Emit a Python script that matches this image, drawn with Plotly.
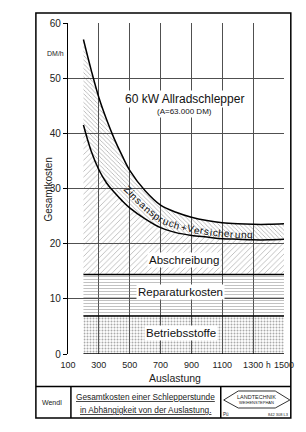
import numpy as np
import plotly.graph_objects as go

# ---------------- data ----------------
auslastung = [200, 250, 300, 350, 400, 450, 500, 600, 700, 800, 900, 1000, 1100, 1200, 1300, 1400, 1500]
betriebsstoffe_top = [6.9] * len(auslastung)
reparatur_top = [14.4] * len(auslastung)
abschreibung_top = [41.5, 36.8, 33.4, 31.0, 29.3, 27.8, 26.5, 24.5, 22.9, 22.0, 21.5, 21.2, 20.9, 20.8, 20.7, 20.7, 20.8]
gesamt_top = [57.0, 51.5, 46.5, 42.5, 39.0, 36.0, 33.3, 29.6, 27.0, 25.7, 24.8, 24.2, 23.8, 23.6, 23.5, 23.5, 23.6]
baseline = [0] * len(auslastung)

x_ticks = [100, 300, 500, 700, 900, 1100, 1300, 1500]
x_ticktext = ["100", "300", "500", "700", "900", "1100", "1300", "1500"]
y_ticks = [0, 10, 20, 30, 40, 50, 60]

# ---------------- geometry ----------------
W, H = 306, 432
ML, MR, MT, MB = 68, 16, 23, 78
PW, PH = W - ML - MR, H - MT - MB
XR = [100, 1500]
YR = [0, 60]
FONT = "Liberation Sans, Arial, sans-serif"
GRID = "#505050"


def px2paper(px, py):
    return (px - ML) / PW, (H - MB - py) / PH


def data2px(x, y):
    return ML + (x - XR[0]) / (XR[1] - XR[0]) * PW, (H - MB) - (y - YR[0]) / (YR[1] - YR[0]) * PH


fig = go.Figure()

common = dict(mode="lines", line=dict(color="black", width=1.5), hoverinfo="skip", showlegend=False)
fig.add_trace(go.Scatter(x=auslastung, y=baseline, **common))
fig.add_trace(go.Scatter(x=auslastung, y=betriebsstoffe_top, fill="tonexty",
                         fillcolor="rgba(255,255,255,0)",
                         fillpattern=dict(shape=".", fgcolor="#555", bgcolor="rgba(255,255,255,0)", size=3, solidity=0.35),
                         **common))
fig.add_trace(go.Scatter(x=auslastung, y=reparatur_top, fill="tonexty",
                         fillcolor="rgba(255,255,255,0)",
                         fillpattern=dict(shape="-", fgcolor="#777", bgcolor="rgba(255,255,255,0)", size=3, solidity=0.3),
                         **common))
fig.add_trace(go.Scatter(x=auslastung, y=abschreibung_top, fill="tonexty", line_shape="spline",
                         fillcolor="rgba(255,255,255,0)",
                         fillpattern=dict(shape="/", fgcolor="#666", bgcolor="rgba(255,255,255,0)", size=4, solidity=0.2),
                         mode="lines", line=dict(color="black", width=1.5), hoverinfo="skip", showlegend=False))
fig.add_trace(go.Scatter(x=auslastung, y=gesamt_top, fill="tonexty", line_shape="spline",
                         fillcolor="rgba(255,255,255,0)",
                         fillpattern=dict(shape="\\", fgcolor="#555", bgcolor="rgba(255,255,255,0)", size=3, solidity=0.25),
                         mode="lines", line=dict(color="black", width=1.5), hoverinfo="skip", showlegend=False))

ann = []
shapes = []

# --- band labels ---
for txt_, x, y, fs in [("Abschreibung", 850, 17.0, 11.5),
                       ("Reparaturkosten", 831, 11.2, 11.5),
                       ("Betriebsstoffe", 831, 3.8, 11.5)]:
    ann.append(dict(x=x, y=y, xref="x", yref="y", text=txt_, showarrow=False,
                    xanchor="center", yanchor="middle",
                    font=dict(family=FONT, size=fs, color="#111"), bgcolor="white", borderpad=1))

ann.append(dict(x=857, y=46.3, xref="x", yref="y", text="60 kW Allradschlepper", showarrow=False,
                xanchor="center", yanchor="middle", bgcolor="white",
                font=dict(family=FONT, size=12, color="#111")))
ann.append(dict(x=857, y=44.0, xref="x", yref="y", text="(A=63.000 DM)", showarrow=False,
                xanchor="center", yanchor="middle", bgcolor="white",
                font=dict(family=FONT, size=8, color="#111")))

# --- curved label along the Zins band ---
widths = {"Z": 611, "i": 222, "n": 556, "s": 500, "a": 556, "p": 556, "r": 333, "u": 556, "c": 500,
          "h": 556, "+": 584, "V": 667, "e": 556, "g": 556}
label = "Zinsanspruch+Versicherung"
xs = np.linspace(470, 1300, 600)
mid = (np.interp(xs, auslastung, gesamt_top) + np.interp(xs, auslastung, abschreibung_top)) / 2 - 0.5
k = 25
mid_s = np.convolve(np.pad(mid, k, mode="edge"), np.ones(2 * k + 1) / (2 * k + 1), mode="same")[k:-k]
pxs, pys = data2px(xs, mid_s)
seg = np.hypot(np.diff(pxs), np.diff(pys))
arc = np.concatenate([[0], np.cumsum(seg)])
fsz = 10
cw = np.array([widths[c] * fsz / 1000 for c in label])
scale = arc[-1] / cw.sum()
cpos = (np.cumsum(cw) - cw / 2) * scale
for ch, s in zip(label, cpos):
    i = int(np.clip(np.searchsorted(arc, s), 1, len(arc) - 2))
    ang = float(np.degrees(np.arctan2(pys[i + 1] - pys[i - 1], pxs[i + 1] - pxs[i - 1])))
    ann.append(dict(x=float(xs[i]), y=float(mid_s[i]), xref="x", yref="y", text=ch, showarrow=False,
                    textangle=ang, xanchor="center", yanchor="middle",
                    font=dict(family=FONT, size=fsz, color="#111")))


def txt(px, py, t, size, **kw):
    a, b = px2paper(px, py)
    d = dict(x=a, y=b, xref="paper", yref="paper", text=t, showarrow=False,
             xanchor="center", yanchor="middle",
             font=dict(family=FONT, size=size, color="#222"))
    d.update(kw)
    ann.append(d)


# --- axis annotations ---
txt(47, 190, "Gesamtkosten", 10, textangle=-90)
txt(55, 53, "DM/h", 7)
txt(178, 378, "Auslastung", 10.5)
txt(274, 365, "h", 8.5)

# --- frame and footer ---
def rect(x0, y0, x1, y1, w=1.5):
    a, b = px2paper(x0, y0)
    c, d = px2paper(x1, y1)
    shapes.append(dict(type="rect", xref="paper", yref="paper", x0=a, y0=b, x1=c, y1=d,
                       line=dict(color="black", width=w), fillcolor="rgba(0,0,0,0)", layer="below"))


def line(x0, y0, x1, y1, w=1.5):
    a, b = px2paper(x0, y0)
    c, d = px2paper(x1, y1)
    shapes.append(dict(type="line", xref="paper", yref="paper", x0=a, y0=b, x1=c, y1=d,
                       line=dict(color="black", width=w)))


rect(35, 13, 297, 418)
line(35, 386.5, 297, 386.5)
line(71, 386.5, 71, 418)
line(225, 386.5, 225, 418)

# logo outline
pts = [(228, 400), (243, 391), (281, 391), (296, 400), (281, 408), (243, 408)]
path = "M " + " L ".join("%f,%f" % px2paper(*p) for p in pts) + " Z"
shapes.append(dict(type="path", xref="paper", yref="paper", path=path, line=dict(color="#333", width=1),
                   fillcolor="rgba(0,0,0,0)"))

txt(52, 402, "Wendl", 7)
txt(148, 397, "<u>Gesamtkosten einer Schlepperstunde</u>", 8.3)
txt(148, 410, "<u>in Abhängigkeit von der Auslastung.</u>", 8.3)
txt(262, 396.5, "LANDTECHNIK", 5.5)
txt(262, 402.5, "WEIHENSTEPHAN", 4)
txt(230, 414, "Pü", 4.5)
txt(284, 414, "842 308 L3", 4)

fig.update_layout(
    width=W, height=H, margin=dict(l=ML, r=MR, t=MT, b=MB, pad=0),
    paper_bgcolor="white", plot_bgcolor="white",
    font=dict(family=FONT, color="#222"),
    showlegend=False,
    annotations=ann, shapes=shapes,
    xaxis=dict(range=XR, autorange=False, tickvals=x_ticks, ticktext=x_ticktext,
               showgrid=True, gridcolor=GRID, gridwidth=1.4, zeroline=False,
               showline=False, ticks="", ticklabelstandoff=4, layer="above traces",
               tickfont=dict(size=9, family=FONT, color="#222"), fixedrange=True),
    yaxis=dict(range=YR, autorange=False, tickvals=y_ticks,
               showgrid=True, gridcolor=GRID, gridwidth=1.4, zeroline=False,
               showline=True, linecolor="black", linewidth=1.4, layer="above traces",
               ticks="outside", ticklen=4, tickcolor="black",
               tickfont=dict(size=10, family=FONT, color="#222"), fixedrange=True),
)

fig.write_html("out.html")
